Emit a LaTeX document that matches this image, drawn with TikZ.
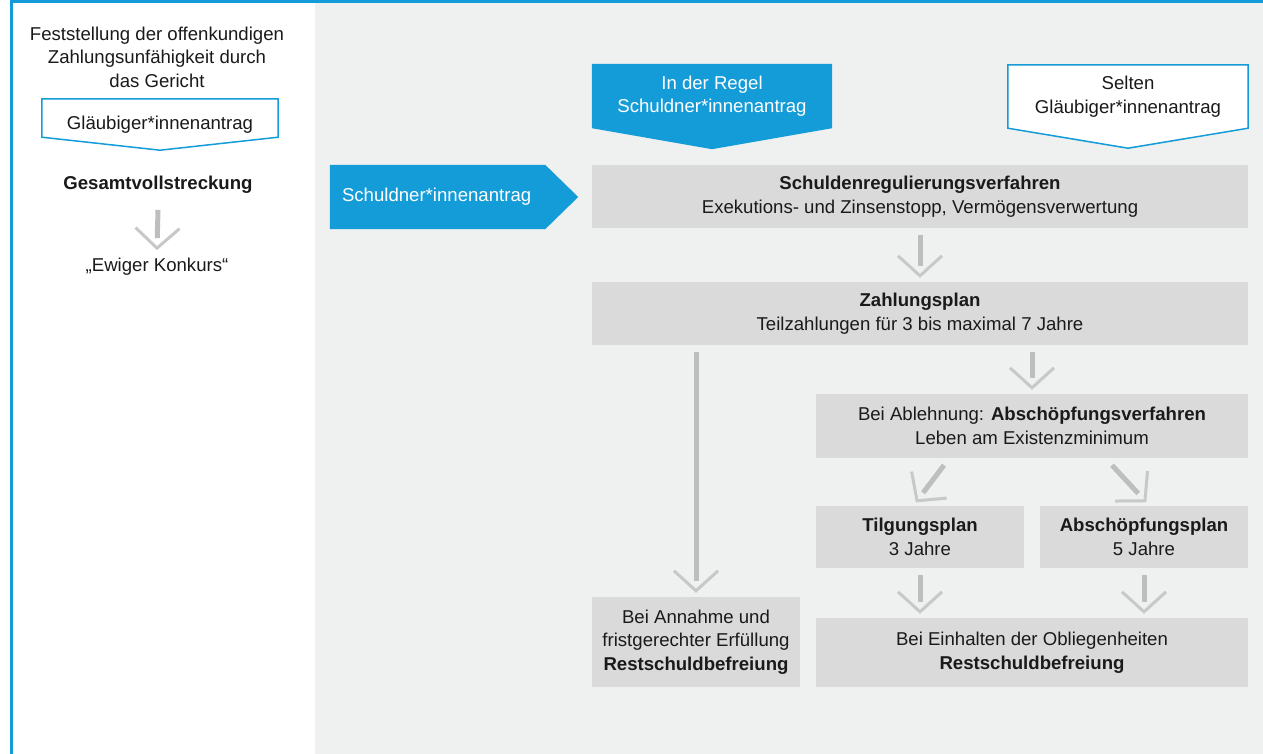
\documentclass[tikz,border=0pt]{standalone}
\usepackage{fontspec}
\setmainfont{Liberation Sans}
\usetikzlibrary{positioning,backgrounds,decorations.markings}

\definecolor{ablue}{RGB}{20,156,216}
\definecolor{panelgray}{RGB}{239,240,240}
\definecolor{boxgray}{RGB}{218,218,219}
\definecolor{stemgray}{RGB}{190,190,190}
\definecolor{veegray}{RGB}{200,200,200}
\definecolor{txt}{RGB}{26,26,26}

\begin{document}
\begin{tikzpicture}[
    x=1pt, y=-1pt,
    font=\fontsize{18.6pt}{23.5pt}\selectfont,
    text=txt,
    stage/.style={fill=boxgray, inner sep=0pt, align=center},
    plain/.style={inner sep=0pt, align=center},
    tag/.style={inner sep=0pt, align=center},
    outline/.style={fill=white, draw=ablue, line width=1.5pt},
    vee/.style={draw=veegray, line width=3pt, shorten >=0pt, shorten <=0pt},
    flow/.style={draw=stemgray, line width=5pt, shorten >=10pt,
        postaction={decorate, shorten >=0pt, decoration={markings,
            mark=at position 1 with {\draw[vee] (-20pt,22pt) -- (0pt,0pt) -- (-20pt,-22pt);}}}}
]
\useasboundingbox (0,0) rectangle (1263,754);

% Left panel
\node[plain] (fest) at (157,57) {Feststellung der offenkundigen\\Zahlungsunfähigkeit durch\\das Gericht};
\node[tag, minimum width=236pt, minimum height=51pt] (glaeub) at (160,124.5) {Gläubiger*innenantrag};
\node[plain] (gesamt) at (158,185) {\textbf{Gesamtvollstreckung}};
\node[plain] (ewig) at (157,267) {„Ewiger Konkurs“};

% Requests
\node[tag, text=white, minimum width=240pt, minimum height=64pt] (regel) at (712,96) {In der Regel\\Schuldner*innenantrag};
\node[tag, minimum width=240pt, minimum height=63pt] (selten) at (1128,96.5) {Selten\\Gläubiger*innenantrag};
\node[tag, text=white, minimum width=248pt, minimum height=64pt, text width=224pt, align=left] (antrag) at (454,197) {Schuldner*innenantrag};

% Stages
\node[stage, minimum width=656pt, minimum height=63pt] (schulden) at (920,196.5) {\textbf{Schuldenregulierungsverfahren}\\Exekutions- und Zinsenstopp, Vermögensverwertung};
\node[stage, minimum width=656pt, minimum height=63pt] (zahlung) at (920,313.5) {\textbf{Zahlungsplan}\\Teilzahlungen für 3 bis maximal 7 Jahre};
\node[stage, minimum width=432pt, minimum height=64pt] (abv) at (1032,426) {Bei Ablehnung: \textbf{Abschöpfungsverfahren}\\Leben am Existenzminimum};
\node[stage, minimum width=208pt, minimum height=62pt] (til) at (920,537) {\textbf{Tilgungsplan}\\3 Jahre};
\node[stage, minimum width=208pt, minimum height=62pt] (abp) at (1144,537) {\textbf{Abschöpfungsplan}\\5 Jahre};
\node[stage, minimum width=432pt, minimum height=69pt] (ein) at (1032,652.5) {Bei Einhalten der Obliegenheiten\\\textbf{Restschuldbefreiung}};
\node[stage, minimum width=208pt, minimum height=90pt] (ann) at (696,642) {Bei Annahme und\\fristgerechter Erfüllung\\\textbf{Restschuldbefreiung}};

% Arrows
\draw[flow] ([yshift=-16pt]gesamt.south) -- ([yshift=10pt]ewig.north);
\draw[flow] ([yshift=-7pt]schulden.south) -- ([yshift=6pt]zahlung.north);
\draw[flow] ([yshift=-7pt]zahlung.south -| abv.north) -- ([yshift=6pt]abv.north);
\draw[flow] ([yshift=-7pt]zahlung.south -| ann.north) -- ([yshift=6pt]ann.north);
\draw[flow] ([xshift=-88pt,yshift=-7pt]abv.south) -- ([xshift=-3pt,yshift=5pt]til.north);
\draw[flow] ([xshift=80pt,yshift=-7pt]abv.south) -- ([xshift=1pt,yshift=5pt]abp.north);
\draw[flow] ([yshift=-7pt]til.south) -- ([yshift=6pt]ein.north -| til.south);
\draw[flow] ([yshift=-7pt]abp.south) -- ([yshift=6pt]ein.north -| abp.south);

% Panels and pointer shapes
\begin{scope}[on background layer]
  \fill[white] (0,0) rectangle (315,754);
  \fill[panelgray] (315,0) rectangle (1263,754);
  \fill[ablue] (10,0) rectangle (1263,3.5);
  \fill[ablue] (10,0) rectangle (12.5,754);
  \fill[ablue] (regel.north west) -- (regel.north east) -- (regel.south east)
    -- ([yshift=-21pt]regel.south) -- (regel.south west) -- cycle;
  \filldraw[outline] (selten.north west) -- (selten.north east) -- (selten.south east)
    -- ([yshift=-20pt]selten.south) -- (selten.south west) -- cycle;
  \filldraw[outline] (glaeub.north west) -- (glaeub.north east) -- ([yshift=13pt]glaeub.south east)
    -- (glaeub.south) -- ([yshift=13pt]glaeub.south west) -- cycle;
  \fill[ablue] (antrag.north west) -- ([xshift=-33pt]antrag.north east) -- (antrag.east)
    -- ([xshift=-33pt]antrag.south east) -- (antrag.south west) -- cycle;
\end{scope}

\end{tikzpicture}
\end{document}
